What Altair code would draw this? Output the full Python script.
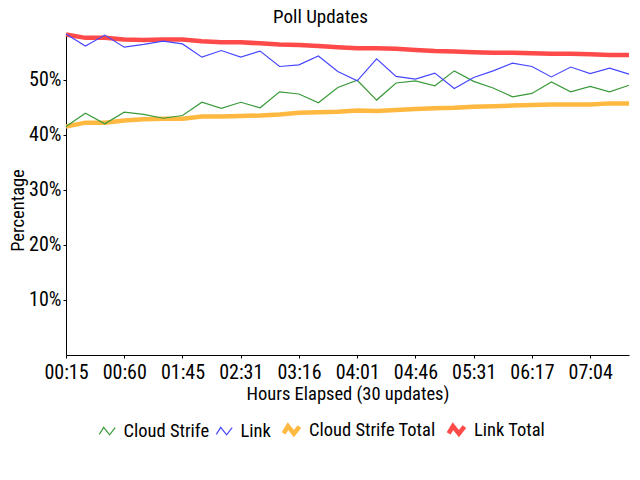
import altair as alt
import pandas as pd

series_names = ["Cloud Strife", "Link", "Cloud Strife Total", "Link Total"]
series_colors = ["#3a9a3a", "#4646ff", "#ffb840", "#ff4a4a"]
series_widths = [1.2, 1.2, 4.5, 4.5]

tick_labels = ["00:15", "00:60", "01:45", "02:31", "03:16", "04:01", "04:46", "05:31", "06:17", "07:04"]

link = [58.3, 56.1, 58.1, 55.9, 56.4, 57.0, 56.5, 54.1, 55.3, 54.1,
        55.2, 52.4, 52.7, 54.3, 51.5, 49.8, 53.8, 50.6, 50.1, 51.2,
        48.4, 50.4, 51.6, 53.0, 52.4, 50.5, 52.3, 51.1, 52.1, 51.0]
cloud = [41.5, 43.9, 42.0, 44.1, 43.7, 43.0, 43.5, 45.9, 44.8, 45.9,
         44.9, 47.8, 47.4, 45.8, 48.6, 49.9, 46.3, 49.4, 49.8, 48.9,
         51.6, 49.7, 48.5, 46.9, 47.5, 49.6, 47.8, 48.8, 47.8, 49.0]
link_total = [58.2, 57.6, 57.6, 57.3, 57.2, 57.3, 57.3, 57.0, 56.8, 56.8,
              56.6, 56.4, 56.3, 56.1, 55.9, 55.7, 55.7, 55.6, 55.4, 55.2,
              55.1, 55.0, 54.9, 54.9, 54.8, 54.7, 54.7, 54.6, 54.5, 54.5]
cloud_total = [41.5, 42.2, 42.2, 42.6, 42.8, 42.9, 42.9, 43.3, 43.3, 43.4,
               43.5, 43.7, 44.0, 44.1, 44.2, 44.4, 44.3, 44.5, 44.7, 44.8,
               44.9, 45.1, 45.2, 45.3, 45.4, 45.5, 45.5, 45.5, 45.7, 45.7]

rows = []
for name, vals in zip(series_names, [cloud, link, cloud_total, link_total]):
    for i, v in enumerate(vals):
        rows.append({"idx": i, "series": name, "value": v})
df = pd.DataFrame(rows)

FONT = "Liberation Sans Narrow, Roboto Condensed, DejaVu Sans Condensed, sans-serif"
ymax = max(link + cloud + link_total + cloud_total)

label_js = "[" + ",".join("'%s'" % t for t in tick_labels) + "][datum.value/3]"

zig = "M-1,0.45 L-0.45,-0.45 L0.3,0.5 L1,-0.4"

x = alt.X("idx:Q", scale=alt.Scale(domain=[0, len(link) - 1], nice=False),
          axis=alt.Axis(values=list(range(0, 30, 3)), labelExpr=label_js,
                        title="Hours Elapsed (30 updates)", grid=False, labelOverlap=False,
                        labelFlush=False, labelFontSize=20, titleFontSize=18.5,
                        tickSize=3, labelPadding=4, titlePadding=2))
y = alt.Y("value:Q", scale=alt.Scale(domain=[0, ymax], nice=False, zero=True),
          axis=alt.Axis(values=[10, 20, 30, 40, 50], labelExpr="datum.value + '%'",
                        title="Percentage", grid=False, tickSize=3, labelPadding=2,
                        labelFontSize=20, titleFontSize=18.5,
                        titleX=-49, titleY=176, titleAngle=270,
                        titleAlign="center", titleBaseline="middle"))
legend_kw = dict(title=None, orient="none", legendX=32, legendY=385,
                 direction="horizontal", symbolType=zig,
                 symbolSize=250, symbolFillColor="transparent",
                 labelFontSize=18.5, labelFont=FONT, columnPadding=3,
                 labelOffset=7, labelLimit=300)
color = alt.Color("series:N", scale=alt.Scale(domain=series_names, range=series_colors),
                  legend=alt.Legend(**legend_kw))
sw = alt.StrokeWidth("series:N",
                     scale=alt.Scale(type="ordinal", domain=series_names, range=series_widths),
                     legend=alt.Legend(**legend_kw))

totals = alt.Chart(df).transform_filter(
    "indexof(datum.series, 'Total') >= 0"
).mark_line(strokeCap="butt").encode(x=x, y=y, color=color, strokeWidth=sw, detail="series:N")
singles = alt.Chart(df).transform_filter(
    "indexof(datum.series, 'Total') < 0"
).mark_line().encode(x=x, y=y, color=color, strokeWidth=sw, detail="series:N")

chart = alt.layer(totals, singles).properties(
    width=563, height=321,
    autosize=alt.AutoSizeParams(type="none"),
    padding={"left": 58, "top": 26, "right": 3, "bottom": 117},
    title=alt.TitleParams("Poll Updates", fontSize=19, fontWeight="normal", font=FONT,
                          dx=-27, dy=7, offset=6, anchor="middle"),
).configure_view(stroke=None).configure_axis(
    domainColor="black", tickColor="black", labelColor="black", titleColor="black",
    labelFont=FONT, titleFont=FONT, titleFontWeight="normal"
)

chart.save("out.html", embed_options={"renderer": "svg", "actions": False})
